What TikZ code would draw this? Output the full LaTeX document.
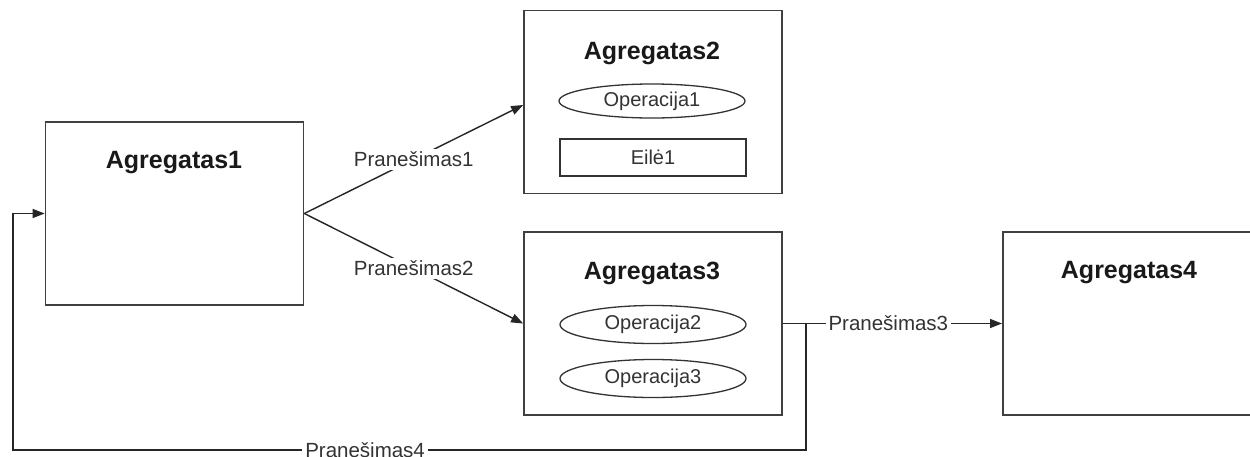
\documentclass[tikz,border=0pt]{standalone}
\usepackage{fontspec}
\setmainfont{Liberation Sans}
\usetikzlibrary{arrows.meta,shapes.geometric,calc}

\tikzset{
  agg/.style={rectangle, draw=black!75, line width=1.7pt, fill=white,
    minimum width=258pt, minimum height=183pt, inner sep=0pt},
  aggtitle/.style={font=\fontsize{25}{28}\selectfont\bfseries, text=black!90, inner sep=0pt},
  oper/.style={ellipse, draw=black!80, line width=1.3pt, minimum width=186pt,
    minimum height=38pt, inner sep=0pt, font=\fontsize{20}{22}\selectfont, text=black!80},
  queuebox/.style={rectangle, draw=black!80, line width=1.3pt, minimum width=186pt,
    minimum height=37pt, inner sep=0pt, font=\fontsize{20}{22}\selectfont, text=black!80},
  msg/.style={fill=white, inner sep=3pt, font=\fontsize{20.5}{23}\selectfont, text=black!80},
  flow/.style={draw=black!85, line width=1.4pt, -{Triangle[length=12pt,width=9pt]}},
  wire/.style={draw=black!85, line width=1.4pt},
}

\begin{document}
\begin{tikzpicture}[x=1pt,y=-1pt]
  \useasboundingbox (0,0) rectangle (1250,456);
  \clip (0,0) rectangle (1250,456);
  \fill[white] (0,0) rectangle (1250,456);

  % aggregates (the fourth one runs past the right border)
  \node[agg] (A1) at (174.5,213.5) {};
  \node[agg] (A2) at (653,102) {};
  \node[agg] (A3) at (653,323.5) {};
  \node[agg, minimum width=300pt, anchor=west] (A4) at (1002,323.5) {};

  \node[aggtitle] (T1) at (174,163) {Agregatas1};
  \node[aggtitle] (T2) at (652,53) {Agregatas2};
  \node[aggtitle] (T3) at (652,273) {Agregatas3};
  \node[aggtitle] (T4) at (1129,273) {Agregatas4};

  % contents of the aggregates
  \node[oper, minimum height=34pt] (O1) at (652,101) {Operacija1};
  \node[queuebox] (E1) at (653,157.5) {Eilė1};
  \node[oper] (O2) at (653,324.5) {Operacija2};
  \node[oper] (O3) at (653,378.5) {Operacija3};

  % messages
  \coordinate (jn) at (806,323.5);
  \coordinate (fb1) at (806,450);
  \coordinate (fb2) at (13,450);

  \draw[flow] (A1.east) -- node[msg] (M1) {Pranešimas1} ($(A2.west)+(0,3)$);
  \draw[flow] (A1.east) -- node[msg] (M2) {Pranešimas2} (A3.west);
  \draw[wire] (A3.east) -- (jn);
  \draw[flow] (jn) -- node[msg, pos=0.42] (M3) {Pranešimas3} (A4.west);
  \draw[flow] (jn) -- (fb1) -- node[msg, pos=0.556] (M4) {Pranešimas4} (fb2) |- (A1.west);
\end{tikzpicture}
\end{document}
